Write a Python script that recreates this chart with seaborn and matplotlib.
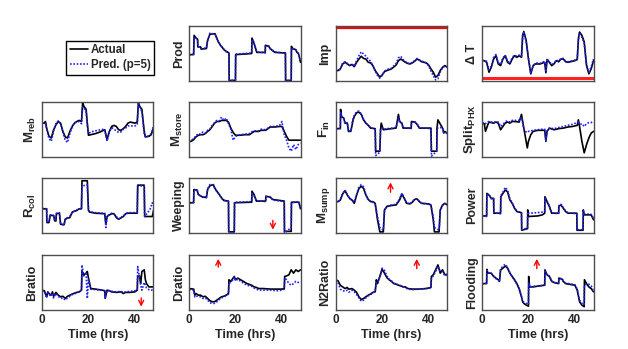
import matplotlib
matplotlib.use("Agg")
import matplotlib.pyplot as plt
import numpy as np
import pandas as pd
import seaborn as sns

# ---------------- data (normalised) ----------------
series_names = ["Actual", "Pred. (p=5)"]

t_prod = [0, 2, 2.2, 3, 3.7, 3.8, 5, 5.2, 7.5, 8, 9, 11.2, 12, 12.7, 13.5, 14.2, 15, 16, 17.2, 17.3, 20, 20.1, 24, 27, 27.1, 27.8, 28.5, 29.2, 32.8, 32.9, 34.3, 35, 36, 37, 41.5, 41.6, 44, 44.1, 44.5, 46, 46.5, 47.2, 48]
prod_act = [0.48, 0.48, 0.83, 0.78, 0.76, 0.62, 0.62, 0.58, 0.59, 0.74, 0.85, 0.86, 0.77, 0.71, 0.65, 0.62, 0.57, 0.54, 0.51, 0.01, 0.01, 0.48, 0.49, 0.5, 0.78, 0.71, 0.62, 0.52, 0.52, 0.65, 0.63, 0.59, 0.55, 0.52, 0.51, 0.01, 0.01, 0.63, 0.59, 0.57, 0.52, 0.49, 0.34]
prod_pred = [0.47, 0.49, 0.8, 0.79, 0.75, 0.63, 0.61, 0.59, 0.6, 0.72, 0.87, 0.85, 0.78, 0.7, 0.66, 0.61, 0.58, 0.53, 0.5, 0.01, 0.02, 0.49, 0.5, 0.51, 0.75, 0.72, 0.6, 0.53, 0.51, 0.63, 0.64, 0.58, 0.56, 0.53, 0.5, 0.0, 0.02, 0.6, 0.6, 0.56, 0.53, 0.5, 0.36]

t_imp = [0, 1, 2, 3, 4, 5, 6, 7, 8, 9, 10, 11, 12, 13, 14, 15, 16, 17, 18, 19, 20, 21, 22, 24, 26, 27, 28, 29, 30, 31, 32, 33, 34, 35, 36, 37, 38, 39, 40, 41, 42, 43, 44, 45, 46, 47, 48]
imp_act = [0.19, 0.19, 0.22, 0.31, 0.34, 0.31, 0.28, 0.30, 0.26, 0.34, 0.40, 0.45, 0.41, 0.40, 0.34, 0.33, 0.28, 0.19, 0.13, 0.07, 0.11, 0.17, 0.19, 0.22, 0.29, 0.37, 0.40, 0.37, 0.34, 0.32, 0.31, 0.33, 0.36, 0.40, 0.38, 0.35, 0.34, 0.33, 0.29, 0.22, 0.16, 0.07, 0.10, 0.19, 0.25, 0.28, 0.25]
imp_pred = [0.18, 0.2, 0.21, 0.33, 0.35, 0.32, 0.29, 0.31, 0.27, 0.37, 0.46, 0.53, 0.49, 0.45, 0.4, 0.36, 0.28, 0.18, 0.1, 0.05, 0.1, 0.18, 0.21, 0.23, 0.32, 0.42, 0.45, 0.39, 0.35, 0.33, 0.31, 0.34, 0.37, 0.41, 0.38, 0.36, 0.35, 0.33, 0.28, 0.18, 0.1, 0.02, 0.04, 0.16, 0.24, 0.27, 0.25]
imp_limit = 0.96

t_dt = [0, 1, 2, 3, 4, 5, 6, 7, 8, 9, 10, 11, 12, 13, 14, 15, 16, 17, 17.5, 18, 19, 20, 21, 22, 23, 25, 27, 27.5, 28, 29, 30, 31, 32, 33, 34, 35, 36, 37, 38, 40, 41, 41.5, 42, 43, 44, 45, 46, 47, 48]
dt_act = [0.37, 0.37, 0.34, 0.16, 0.25, 0.40, 0.46, 0.31, 0.28, 0.40, 0.46, 0.34, 0.31, 0.40, 0.46, 0.43, 0.46, 0.43, 0.83, 0.90, 0.74, 0.40, 0.13, 0.28, 0.31, 0.31, 0.34, 0.15, 0.39, 0.34, 0.28, 0.31, 0.37, 0.35, 0.40, 0.40, 0.35, 0.34, 0.35, 0.37, 0.39, 0.77, 0.89, 0.83, 0.71, 0.28, 0.13, 0.22, 0.37]
dt_pred = [0.38, 0.36, 0.36, 0.2, 0.27, 0.43, 0.48, 0.33, 0.3, 0.42, 0.47, 0.36, 0.32, 0.43, 0.47, 0.45, 0.47, 0.45, 0.8, 0.88, 0.72, 0.42, 0.15, 0.27, 0.33, 0.32, 0.36, 0.17, 0.4, 0.35, 0.3, 0.32, 0.38, 0.36, 0.41, 0.41, 0.36, 0.35, 0.36, 0.38, 0.4, 0.74, 0.87, 0.8, 0.68, 0.3, 0.16, 0.25, 0.4]
dt_limit = 0.06

t_mreb = [0, 1, 1.5, 2, 3, 4, 5, 6, 7, 8, 9, 10, 11, 12, 13, 14, 15, 16, 17, 17.5, 18, 19, 19.5, 20, 21, 23, 25, 27, 28, 29, 30, 31, 32, 33, 34, 35, 36, 37, 38, 40, 41, 41.5, 42, 43, 44, 44.5, 46, 47, 48]
mreb_act = [0.61, 0.61, 0.64, 0.52, 0.37, 0.34, 0.49, 0.58, 0.64, 0.61, 0.46, 0.36, 0.34, 0.46, 0.55, 0.61, 0.64, 0.66, 0.64, 0.98, 0.92, 0.86, 0.61, 0.39, 0.40, 0.42, 0.45, 0.49, 0.31, 0.46, 0.55, 0.57, 0.55, 0.49, 0.48, 0.51, 0.55, 0.61, 0.63, 0.61, 0.63, 0.98, 0.92, 0.86, 0.46, 0.36, 0.37, 0.40, 0.52]
mreb_pred = [0.6, 0.62, 0.6, 0.5, 0.33, 0.28, 0.47, 0.6, 0.65, 0.6, 0.44, 0.3, 0.26, 0.42, 0.54, 0.62, 0.63, 0.64, 0.6, 0.9, 0.9, 0.8, 0.58, 0.42, 0.45, 0.47, 0.49, 0.5, 0.28, 0.45, 0.53, 0.5, 0.47, 0.44, 0.45, 0.5, 0.52, 0.56, 0.56, 0.56, 0.58, 0.96, 0.9, 0.82, 0.42, 0.36, 0.38, 0.42, 0.56]

t_mstore = [0, 1, 2, 3, 4, 5, 6, 7, 8, 9, 10, 11, 12, 13, 14, 15, 16, 17, 18, 19, 20, 22, 24, 26, 27, 28, 30, 31, 33, 34, 35, 37, 39, 40, 41, 42, 43, 44, 45, 46, 47, 48]
mstore_act = [0.28, 0.28, 0.31, 0.36, 0.39, 0.40, 0.40, 0.42, 0.46, 0.49, 0.55, 0.61, 0.64, 0.64, 0.66, 0.66, 0.66, 0.63, 0.52, 0.44, 0.39, 0.39, 0.40, 0.40, 0.43, 0.46, 0.46, 0.48, 0.48, 0.51, 0.54, 0.54, 0.55, 0.55, 0.46, 0.37, 0.30, 0.30, 0.30, 0.30, 0.30, 0.30]
mstore_pred = [0.27, 0.3, 0.33, 0.38, 0.42, 0.41, 0.45, 0.43, 0.48, 0.5, 0.57, 0.62, 0.66, 0.65, 0.72, 0.66, 0.7, 0.6, 0.5, 0.3, 0.37, 0.4, 0.41, 0.42, 0.45, 0.47, 0.47, 0.5, 0.49, 0.52, 0.55, 0.55, 0.57, 0.64, 0.4, 0.3, 0.16, 0.1, 0.22, 0.13, 0.22, 0.25]

t_fin = [0, 2, 2.1, 2.5, 3.5, 4, 5, 5.5, 6.5, 7.5, 8, 9, 10, 11, 12, 13, 14, 15, 17, 17.2, 19, 19.3, 19.6, 20.5, 24, 26, 27, 27.5, 28.5, 29, 32.5, 32.6, 34, 35, 36, 41, 41.2, 43.5, 43.6, 44, 46, 46.5, 47, 48]
fin_act = [0.51, 0.51, 0.86, 0.73, 0.70, 0.61, 0.61, 0.46, 0.46, 0.67, 0.73, 0.80, 0.81, 0.77, 0.67, 0.61, 0.57, 0.52, 0.51, 0.10, 0.10, 0.49, 0.61, 0.49, 0.51, 0.52, 0.77, 0.64, 0.61, 0.52, 0.52, 0.64, 0.63, 0.59, 0.52, 0.52, 0.10, 0.10, 0.52, 0.67, 0.52, 0.43, 0.46, 0.42]
fin_pred = [0.5, 0.52, 0.8, 0.74, 0.69, 0.6, 0.62, 0.47, 0.47, 0.7, 0.75, 0.82, 0.83, 0.78, 0.68, 0.6, 0.58, 0.53, 0.5, 0.02, 0.08, 0.5, 0.52, 0.5, 0.52, 0.53, 0.7, 0.65, 0.6, 0.53, 0.51, 0.62, 0.64, 0.6, 0.53, 0.51, 0.01, 0.1, 0.5, 0.53, 0.53, 0.44, 0.46, 0.42]

t_split = [0, 1, 1.5, 2.5, 3, 5, 6, 7, 8, 9, 10, 11, 12, 13, 14, 16, 17, 17.5, 18, 19, 19.5, 20, 21, 22, 24, 26, 27, 27.5, 28, 29, 31, 33, 35, 37, 39, 41, 41.5, 42, 43, 44, 45, 46, 47, 48]
split_act = [0.61, 0.60, 0.46, 0.58, 0.63, 0.61, 0.63, 0.61, 0.49, 0.55, 0.61, 0.63, 0.61, 0.64, 0.64, 0.63, 0.77, 0.64, 0.52, 0.28, 0.16, 0.28, 0.40, 0.46, 0.48, 0.48, 0.48, 0.28, 0.46, 0.52, 0.49, 0.51, 0.52, 0.54, 0.55, 0.57, 0.67, 0.55, 0.28, 0.07, 0.22, 0.34, 0.43, 0.46]
split_pred = [0.62, 0.62, 0.6, 0.63, 0.64, 0.62, 0.64, 0.63, 0.55, 0.58, 0.64, 0.65, 0.63, 0.66, 0.66, 0.66, 0.72, 0.62, 0.5, 0.45, 0.44, 0.46, 0.47, 0.48, 0.49, 0.5, 0.5, 0.3, 0.47, 0.52, 0.51, 0.53, 0.55, 0.57, 0.59, 0.62, 0.65, 0.58, 0.6, 0.55, 0.6, 0.62, 0.62, 0.64]

t_rcol = [0, 2, 2.1, 3, 3.5, 5, 5.5, 6, 6.2, 7.5, 8, 9.5, 10, 11, 12, 13, 15, 16, 17, 17.2, 19.5, 20, 20.5, 23, 27, 27.5, 28, 29, 30, 31, 32, 33, 35, 36, 37, 41, 41.2, 44, 44.2, 46.5, 47.5, 48]
rcol_act = [0.44, 0.44, 0.19, 0.19, 0.32, 0.32, 0.22, 0.22, 0.35, 0.36, 0.16, 0.15, 0.25, 0.27, 0.28, 0.38, 0.41, 0.44, 0.44, 0.95, 0.95, 0.41, 0.38, 0.36, 0.35, 0.16, 0.30, 0.33, 0.35, 0.35, 0.28, 0.25, 0.30, 0.35, 0.36, 0.36, 0.87, 0.87, 0.30, 0.30, 0.30, 0.41]
rcol_pred = [0.45, 0.44, 0.2, 0.2, 0.33, 0.31, 0.22, 0.24, 0.36, 0.37, 0.17, 0.14, 0.25, 0.28, 0.3, 0.38, 0.42, 0.44, 0.43, 0.85, 0.88, 0.42, 0.39, 0.37, 0.36, 0.1, 0.3, 0.34, 0.36, 0.35, 0.3, 0.26, 0.31, 0.35, 0.37, 0.37, 0.85, 0.86, 0.3, 0.43, 0.55, 0.5]

t_weep = [0, 2, 2.1, 3.5, 4, 6, 7.5, 8, 9, 10.5, 11, 12, 13, 14, 15, 17, 17.1, 19.5, 19.6, 27, 27.1, 28, 29, 33, 33.1, 35, 36, 41, 41.1, 44, 44.1, 47.3, 48]
weep_act = [0.55, 0.55, 0.79, 0.78, 0.70, 0.65, 0.65, 0.79, 0.86, 0.88, 0.82, 0.76, 0.70, 0.64, 0.59, 0.58, 0.02, 0.02, 0.55, 0.56, 0.76, 0.70, 0.58, 0.58, 0.67, 0.65, 0.61, 0.58, 0.03, 0.03, 0.56, 0.56, 0.44]
weep_pred = [0.54, 0.56, 0.77, 0.79, 0.69, 0.66, 0.64, 0.8, 0.88, 0.87, 0.83, 0.75, 0.71, 0.63, 0.6, 0.57, 0.0, 0.01, 0.56, 0.57, 0.72, 0.68, 0.59, 0.57, 0.66, 0.66, 0.6, 0.57, 0.0, 0.1, 0.55, 0.57, 0.46]

t_msump = [0, 1, 2, 3, 4, 5, 6, 7, 8, 9, 10, 11, 12, 13, 14, 15, 16, 17, 18, 19, 20.5, 21, 22, 24, 26, 27.5, 28.5, 29.5, 30.5, 32, 33, 34, 35, 36, 37, 40, 41, 42, 42.5, 44.5, 45, 46, 47, 48]
msump_act = [0.57, 0.57, 0.60, 0.71, 0.77, 0.69, 0.63, 0.60, 0.54, 0.69, 0.81, 0.85, 0.81, 0.69, 0.61, 0.57, 0.57, 0.54, 0.24, 0.02, 0.02, 0.42, 0.48, 0.50, 0.51, 0.60, 0.71, 0.63, 0.54, 0.53, 0.56, 0.61, 0.62, 0.57, 0.54, 0.53, 0.51, 0.24, 0.02, 0.02, 0.42, 0.51, 0.54, 0.51]
msump_pred = [0.58, 0.56, 0.62, 0.72, 0.78, 0.7, 0.62, 0.6, 0.56, 0.7, 0.84, 0.88, 0.84, 0.7, 0.6, 0.58, 0.56, 0.52, 0.3, 0.1, 0.05, 0.4, 0.49, 0.51, 0.52, 0.62, 0.72, 0.64, 0.55, 0.53, 0.57, 0.62, 0.62, 0.58, 0.54, 0.52, 0.5, 0.3, 0.1, 0.05, 0.4, 0.5, 0.53, 0.52]

t_power = [0, 2, 2.1, 3, 4, 5, 5.1, 8, 8.1, 9, 10, 11, 12, 13, 14, 15, 17, 17.1, 19.6, 19.7, 20, 24, 26, 27, 27.1, 28, 29, 30, 33, 33.1, 34, 35, 36, 37, 40.8, 40.9, 43.5, 43.6, 44, 47, 48]
power_act = [0.31, 0.31, 0.72, 0.69, 0.63, 0.63, 0.36, 0.36, 0.66, 0.72, 0.78, 0.75, 0.60, 0.54, 0.45, 0.39, 0.37, 0.05, 0.08, 0.42, 0.30, 0.31, 0.33, 0.36, 0.66, 0.57, 0.48, 0.36, 0.36, 0.49, 0.51, 0.45, 0.39, 0.36, 0.36, 0.05, 0.05, 0.42, 0.33, 0.33, 0.24]
power_pred = [0.32, 0.3, 0.7, 0.7, 0.62, 0.64, 0.37, 0.35, 0.68, 0.74, 0.83, 0.78, 0.62, 0.55, 0.46, 0.4, 0.36, 0.06, 0.09, 0.38, 0.36, 0.37, 0.38, 0.39, 0.63, 0.58, 0.49, 0.37, 0.35, 0.5, 0.52, 0.46, 0.4, 0.37, 0.35, 0.06, 0.06, 0.4, 0.35, 0.34, 0.27]

t_bratio = [0, 1, 2, 2.5, 3, 4, 4.5, 5, 6, 7, 8, 9, 10, 11, 12, 13, 15, 16, 17, 17.2, 18, 19, 19.5, 20, 21, 23, 26, 27, 27.2, 28, 29, 30, 32, 34, 35, 36, 38, 40, 41, 41.2, 42, 42.5, 43, 44, 44.5, 45, 46, 47, 48]
bratio_act = [0.36, 0.35, 0.24, 0.33, 0.30, 0.27, 0.33, 0.25, 0.32, 0.27, 0.24, 0.25, 0.21, 0.25, 0.27, 0.29, 0.32, 0.33, 0.36, 0.70, 0.64, 0.67, 0.70, 0.58, 0.39, 0.38, 0.36, 0.35, 0.21, 0.36, 0.35, 0.33, 0.32, 0.33, 0.30, 0.32, 0.32, 0.33, 0.36, 0.61, 0.62, 0.48, 0.70, 0.73, 0.55, 0.48, 0.42, 0.42, 0.42]
bratio_pred = [0.35, 0.34, 0.22, 0.31, 0.28, 0.25, 0.31, 0.22, 0.3, 0.25, 0.21, 0.22, 0.18, 0.22, 0.25, 0.28, 0.31, 0.33, 0.37, 0.82, 0.62, 0.66, 0.21, 0.55, 0.38, 0.37, 0.36, 0.35, 0.22, 0.35, 0.35, 0.34, 0.33, 0.34, 0.32, 0.33, 0.34, 0.35, 0.36, 0.79, 0.58, 0.45, 0.36, 0.5, 0.45, 0.4, 0.37, 0.36, 0.38]

t_dratio = [0, 2, 2.5, 3, 4, 5, 6, 7, 8, 9, 10, 11, 12, 13, 14, 15, 16, 17, 17.2, 18, 19, 19.5, 20, 21, 23, 25, 27, 28, 29, 30, 32, 35, 38, 40, 41, 41.2, 42, 43, 44, 45, 46, 47, 48]
dratio_act = [0.39, 0.38, 0.27, 0.30, 0.27, 0.27, 0.24, 0.25, 0.21, 0.17, 0.15, 0.15, 0.18, 0.21, 0.24, 0.25, 0.27, 0.30, 0.55, 0.52, 0.58, 0.61, 0.55, 0.58, 0.53, 0.48, 0.45, 0.42, 0.41, 0.39, 0.39, 0.38, 0.38, 0.38, 0.39, 0.61, 0.62, 0.64, 0.73, 0.67, 0.73, 0.70, 0.73]
dratio_pred = [0.37, 0.36, 0.24, 0.26, 0.24, 0.24, 0.21, 0.22, 0.18, 0.13, 0.12, 0.12, 0.15, 0.19, 0.22, 0.24, 0.26, 0.29, 0.5, 0.5, 0.56, 0.6, 0.53, 0.56, 0.5, 0.45, 0.43, 0.4, 0.38, 0.36, 0.36, 0.36, 0.35, 0.36, 0.38, 0.58, 0.55, 0.48, 0.45, 0.48, 0.52, 0.5, 0.52]

t_n2 = [0, 1, 2, 3, 4, 5, 5.5, 6, 7, 8, 9, 10, 11, 12, 13, 14, 15, 16, 17, 17.5, 18, 19, 20, 21, 22, 23, 24, 25, 26, 27, 28, 29, 30, 31, 33, 36, 39, 41, 41.2, 42, 43, 44, 45, 46, 47, 48]
n2_act = [0.55, 0.53, 0.45, 0.42, 0.39, 0.41, 0.38, 0.38, 0.39, 0.36, 0.32, 0.24, 0.19, 0.21, 0.24, 0.27, 0.29, 0.32, 0.33, 0.55, 0.48, 0.61, 0.74, 0.67, 0.59, 0.55, 0.52, 0.48, 0.47, 0.45, 0.44, 0.42, 0.42, 0.39, 0.38, 0.38, 0.39, 0.41, 0.61, 0.64, 0.73, 0.82, 0.67, 0.73, 0.64, 0.65]
n2_pred = [0.54, 0.5, 0.38, 0.35, 0.34, 0.36, 0.33, 0.33, 0.36, 0.33, 0.28, 0.22, 0.16, 0.18, 0.22, 0.26, 0.28, 0.31, 0.34, 0.5, 0.5, 0.6, 0.76, 0.72, 0.62, 0.56, 0.53, 0.49, 0.47, 0.46, 0.44, 0.42, 0.41, 0.38, 0.37, 0.38, 0.39, 0.4, 0.58, 0.62, 0.7, 0.8, 0.7, 0.7, 0.62, 0.64]

t_flood = [0, 2, 2.1, 2.5, 4, 5, 6, 7, 7.5, 8, 9, 10, 11, 12, 13, 14, 15, 16, 17, 17.5, 18, 19, 20, 20.1, 20.5, 22, 25, 27, 27.1, 28, 29, 30, 31, 33, 33.1, 34.5, 35, 36, 40, 41, 42, 43, 44, 44.1, 45, 46, 47, 48]
flood_act = [0.48, 0.48, 0.74, 0.67, 0.67, 0.61, 0.58, 0.55, 0.52, 0.73, 0.76, 0.80, 0.76, 0.67, 0.61, 0.55, 0.48, 0.39, 0.24, 0.15, 0.12, 0.09, 0.07, 0.61, 0.42, 0.42, 0.44, 0.45, 0.73, 0.64, 0.61, 0.52, 0.50, 0.48, 0.58, 0.56, 0.52, 0.48, 0.45, 0.36, 0.15, 0.09, 0.06, 0.55, 0.48, 0.42, 0.39, 0.33]
flood_pred = [0.47, 0.49, 0.72, 0.68, 0.66, 0.62, 0.57, 0.56, 0.51, 0.74, 0.8, 0.83, 0.78, 0.68, 0.6, 0.54, 0.47, 0.38, 0.25, 0.17, 0.14, 0.12, 0.1, 0.5, 0.42, 0.43, 0.44, 0.46, 0.7, 0.63, 0.62, 0.53, 0.5, 0.49, 0.57, 0.57, 0.53, 0.49, 0.46, 0.38, 0.18, 0.12, 0.1, 0.45, 0.47, 0.47, 0.44, 0.34]

# red arrows: (time, start value, end value)
arrow_weep = (36.1, 0.28, 0.01)
arrow_msump = (23.6, 0.69, 0.97)
arrow_bratio = (42.7, 0.27, 0.01)
arrow_dratio = (12.6, 0.73, 0.98)
arrow_n2 = (34.9, 0.70, 0.98)
arrow_flood = (23.6, 0.70, 0.98)

xticks = [0, 20, 40]

# ---------------- style ----------------
sns.set_style("white")
plt.rcParams["font.family"] = ["Liberation Sans", "DejaVu Sans"]
plt.rcParams["mathtext.fontset"] = "custom"
plt.rcParams["mathtext.rm"] = "Liberation Sans:bold"
plt.rcParams["mathtext.it"] = "Liberation Sans:bold"
plt.rcParams["mathtext.bf"] = "Liberation Sans:bold"

fig = plt.figure(figsize=(6.28, 3.49), dpi=100)
W, H = 628.0, 349.0
col_left = [42, 189, 335.7, 482]
row_top = [26, 101.7, 178, 255]
ax_w, ax_h = 111.5, 55

panels = [
    (0, 1, "Prod", t_prod, prod_act, prod_pred),
    (0, 2, "Imp", t_imp, imp_act, imp_pred),
    (0, 3, "Δ T", t_dt, dt_act, dt_pred),
    (1, 0, "M$_{reb}$", t_mreb, mreb_act, mreb_pred),
    (1, 1, "M$_{store}$", t_mstore, mstore_act, mstore_pred),
    (1, 2, "F$_{in}$", t_fin, fin_act, fin_pred),
    (1, 3, "Split$_{PHX}$", t_split, split_act, split_pred),
    (2, 0, "R$_{col}$", t_rcol, rcol_act, rcol_pred),
    (2, 1, "Weeping", t_weep, weep_act, weep_pred),
    (2, 2, "M$_{sump}$", t_msump, msump_act, msump_pred),
    (2, 3, "Power", t_power, power_act, power_pred),
    (3, 0, "Bratio", t_bratio, bratio_act, bratio_pred),
    (3, 1, "Dratio", t_dratio, dratio_act, dratio_pred),
    (3, 2, "N2Ratio", t_n2, n2_act, n2_pred),
    (3, 3, "Flooding", t_flood, flood_act, flood_pred),
]
arrows = {"Weeping": arrow_weep, "M$_{sump}$": arrow_msump, "Bratio": arrow_bratio,
          "Dratio": arrow_dratio, "N2Ratio": arrow_n2, "Flooding": arrow_flood}

pred_color = "#2020ff"
axes = {}
for r, c, label, t, act, pred in panels:
    ax = fig.add_axes([col_left[c] / W, 1 - (row_top[r] + ax_h) / H, ax_w / W, ax_h / H])
    axes[label] = ax
    df = pd.DataFrame({
        "t": list(t) + list(t),
        "v": list(act) + list(pred),
        "series": [series_names[0]] * len(t) + [series_names[1]] * len(t),
    })
    sns.lineplot(data=df[df.series == series_names[0]], x="t", y="v", color="black",
                 linewidth=1.2, estimator=None, sort=False, ax=ax)
    sns.lineplot(data=df[df.series == series_names[1]], x="t", y="v", color=pred_color,
                 linewidth=1.2, linestyle=(0, (1, 1)), estimator=None, sort=False, ax=ax)
    ax.set_xlim(0, 48)
    ax.set_ylim(0, 1)
    ax.set_yticks([])
    fs = 9.5 if "$" in label else 9
    ax.set_ylabel(label, fontsize=fs, fontweight="bold", labelpad=3)
    for sp in ax.spines.values():
        sp.set_color("#4d4d4d")
        sp.set_linewidth(1.0)
    if r == 3:
        ax.set_xticks(xticks)
        ax.tick_params(axis="x", direction="in", length=3, labelsize=8.5, pad=3, color="#4d4d4d")
        for tl in ax.get_xticklabels():
            tl.set_fontweight("bold")
        ax.set_xlabel("Time (hrs)", fontsize=9, fontweight="bold", labelpad=2)
    else:
        ax.set_xticks([])
        ax.set_xlabel("")
    if label in arrows:
        ta, ya, yb = arrows[label]
        ax.annotate("", xy=(ta, yb), xytext=(ta, ya),
                    arrowprops=dict(arrowstyle="->,head_length=0.35,head_width=0.18",
                                    color="red", lw=1.0))

axes["Imp"].axhline(imp_limit, color="red", lw=1.6)
axes["Δ T"].axhline(dt_limit, color="#ff2020", lw=2.2)

# legend
from matplotlib.lines import Line2D
handles = [Line2D([], [], color="black", lw=1.2),
           Line2D([], [], color=pred_color, lw=1.2, linestyle=(0, (1, 1)))]
leg = fig.legend(handles, series_names, loc="upper right",
                 bbox_to_anchor=(154 / W, 1 - 40.5 / H), frameon=True, fancybox=False,
                 edgecolor="black", framealpha=1, prop={"weight": "bold", "size": 8.3},
                 handlelength=1.6, borderpad=0.3, labelspacing=0.3, handletextpad=0.2,
                 borderaxespad=0)
leg.get_frame().set_linewidth(1.0)

fig.savefig("out.png", dpi=100)
